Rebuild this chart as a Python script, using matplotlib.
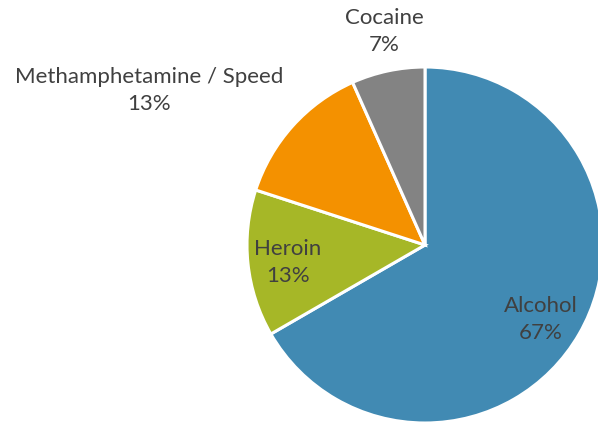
import matplotlib
matplotlib.use("Agg")
import matplotlib.pyplot as plt
import numpy as np

labels = ["Alcohol", "Heroin", "Methamphetamine / Speed", "Cocaine"]
counts = [10, 2, 2, 1]
colors = ["#418AB3", "#A6B727", "#F49100", "#838383"]

# label centres in pie-radius units (position only)
label_pos = [(0.65, -0.42), (-0.77, -0.10), (-1.55, 0.87), (-0.23, 1.20)]

plt.rcParams["font.family"] = ["Lato", "DejaVu Sans"]

W, H = 598, 426
fig = plt.figure(figsize=(W / 100, H / 100), dpi=100)
cx, cy, r = 425, 426 - 245, 178
ax = fig.add_axes([(cx - r) / W, (cy - r) / H, 2 * r / W, 2 * r / H])

ax.pie(counts, colors=colors, startangle=90, counterclock=False, radius=1,
       wedgeprops=dict(edgecolor="white", linewidth=2.2))
# pie() pads the limits, pin them so radius 1 fills the axes
ax.set_xlim(-1, 1)
ax.set_ylim(-1, 1)
ax.set_aspect("equal")
ax.axis("off")

total = sum(counts)
for name, c, (x, y) in zip(labels, counts, label_pos):
    pct = round(100 * c / total)
    ax.text(x, y, f"{name}\n{pct}%", ha="center", va="center", fontsize=16,
            color="#404040", linespacing=1.45, clip_on=False)

fig.savefig("out.png", dpi=100)
